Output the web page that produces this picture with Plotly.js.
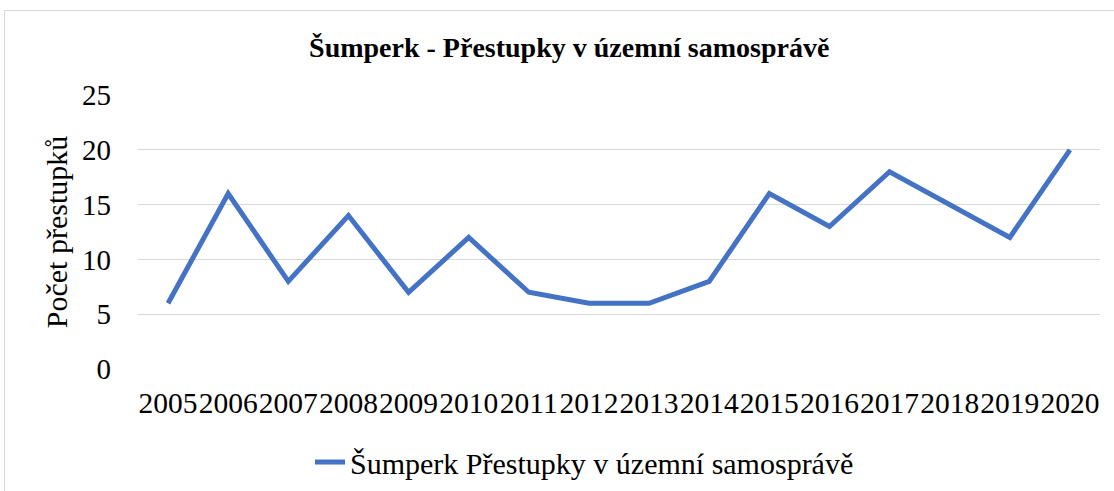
<!DOCTYPE html>
<html>
<head>
<meta charset="utf-8">
<script src="https://cdn.plot.ly/plotly-3.0.1.min.js"></script>
<style>
html,body{margin:0;padding:0;background:#fff;}
#wrap{position:relative;width:1114px;height:491px;overflow:hidden;}
#frame{position:absolute;left:4px;top:10px;width:1130px;height:500px;border:1px solid #d9d9d9;box-sizing:border-box;pointer-events:none;z-index:5;}
#chart{position:absolute;left:0;top:0;width:1114px;height:491px;}
</style>
</head>
<body>
<div id="wrap"><div id="chart"></div><div id="frame"></div></div>
<script>
const years = ["2005","2006","2007","2008","2009","2010","2011","2012","2013","2014","2015","2016","2017","2018","2019","2020"];
const offences = [6,16,8,14,7,12,7,6,6,8,16,13,18,15,12,20];
const seriesName = "Šumperk Přestupky v územní samosprávě";
const chartTitle = "Šumperk - Přestupky v územní samosprávě";
const yTitle = "Počet přestupků";
const yTicks = [0,5,10,15,20,25];

const font = "Liberation Serif, Times New Roman, serif";
Plotly.newPlot("chart", [{
  x: years, y: offences, type: "scatter", mode: "lines", name: seriesName,
  line: {color: "#4472C4", width: 5}
}], {
  width: 1114, height: 491,
  paper_bgcolor: "rgba(0,0,0,0)", plot_bgcolor: "#fff",
  margin: {l: 138, r: 14, t: 95, b: 122},
  font: {family: font, color: "#000", size: 28},
  title: {text: "<b>" + chartTitle + "</b>", font: {family: font, size: 28, color: "#000"}, x: 0.511, xref: "container", xanchor: "center", y: 0.904, yanchor: "middle"},
  showlegend: true,
  legend: {orientation: "h", x: 310/1114, xref: "container", xanchor: "left", y: 0.059, yref: "container", yanchor: "middle", font: {family: font, size: 30}, itemwidth: 30},
  xaxis: {type: "category", range: [-0.5, 15.5], showgrid: false, showline: false, zeroline: false, ticks: "", tickangle: 0, tickfont: {family: font, size: 29.5}, ticklabelstandoff: 13},
  yaxis: {range: [0, 25], tickvals: yTicks, showgrid: true, gridcolor: "#d9d9d9", gridwidth: 1, zeroline: false, showline: false, ticks: "", tickfont: {family: font, size: 29}, ticklabelstandoff: 26,
    title: {text: yTitle, font: {family: font, size: 30}, standoff: 5}}
}, {displayModeBar: false, staticPlot: true});
</script>
</body>
</html>
